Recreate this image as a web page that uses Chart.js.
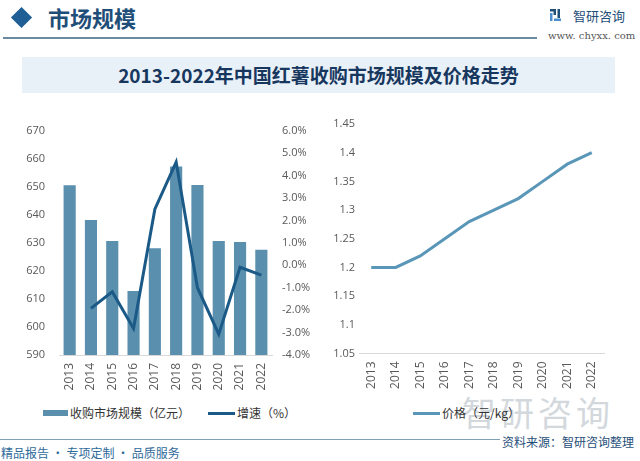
<!DOCTYPE html>
<html>
<head>
<meta charset="utf-8">
<script src="https://cdn.jsdelivr.net/npm/chart.js@4/dist/chart.umd.min.js"></script>
<style>
  html, body { margin: 0; padding: 0; background: #fff; }
  body { width: 640px; height: 461px; position: relative; overflow: hidden;
         font-family: "Noto Sans CJK SC", "Noto Sans", sans-serif; }
  .abs { position: absolute; white-space: nowrap; }
  #diamond { left: 14px; top: 10px; width: 15px; height: 15px; background: #1f5f95; transform: rotate(45deg); }
  #head { left: 48px; top: 3px; font-size: 22px; font-weight: 700; color: #1f4e79; line-height: 28px; }
  #headLine { left: 3px; top: 37px; width: 534px; height: 2px; background: #6d8ba0; }
  #logoIcon { left: 550px; top: 9px; width: 11px; height: 12px; }
  #logoText { left: 573px; top: 7px; font-size: 13px; color: #1f4e79; line-height: 18px; }
  #logoUrl { left: 548px; top: 30px; font-size: 10px; color: #555; font-family: "DejaVu Serif", serif; line-height: 12px; }
  #band { left: 22px; top: 57px; width: 593px; height: 36px; background: #e9f1f8; }
  #title { left: 22px; top: 57px; width: 593px; text-align: center; font-size: 19px; font-weight: 700;
           color: #17375e; line-height: 36px; }
  #leftBox { left: 0; top: 110px; width: 320px; height: 285px; }
  #rightBox { left: 310px; top: 110px; width: 330px; height: 285px; }
  .leg { font-size: 12px; color: #333; line-height: 16px; }
  .sw { position: absolute; }
  #wm { left: 462px; top: 392px; font-size: 34px; color: #d3d8dd; line-height: 40px; letter-spacing: 4px; }
  #footLine { left: 0; top: 439px; width: 500px; height: 1px; background: #7f9fb5; }
  #slogan { left: 1px; top: 445px; font-size: 12px; color: #2f6a9a; line-height: 16px; }
  #source { left: 502px; top: 434px; font-size: 12px; color: #1f4e79; line-height: 16px; }
</style>
</head>
<body>
<div class="abs" id="diamond"></div>
<div class="abs" id="head">市场规模</div>
<div class="abs" id="headLine"></div>
<svg class="abs" id="logoIcon" viewBox="0 0 11 12">
  <rect x="0" y="0" width="6" height="2.5" fill="#1f4e79"/>
  <rect x="3.5" y="0" width="2.5" height="6" fill="#1f4e79"/>
  <rect x="0" y="4" width="2.5" height="8" fill="#4a90d0"/>
  <rect x="7.5" y="0" width="2.5" height="9" fill="#1f4e79"/>
  <rect x="4" y="9.5" width="7" height="2.5" fill="#4a90d0"/>
</svg>
<div class="abs" id="logoText">智研咨询</div>
<div class="abs" id="logoUrl">www. chyxx. com</div>
<div class="abs" id="band"></div>
<div class="abs" id="title">2013-2022年中国红薯收购市场规模及价格走势</div>

<div class="abs" id="wm">智研咨询</div>

<div class="abs" id="leftBox"><canvas id="leftChart"></canvas></div>
<div class="abs" id="rightBox"><canvas id="rightChart"></canvas></div>

<div class="sw" style="left:43px;top:410px;width:25px;height:6px;background:#5a8fae;"></div>
<div class="abs leg" style="left:70px;top:405px;">收购市场规模（亿元）</div>
<div class="sw" style="left:208px;top:412px;width:27px;height:3px;background:#1b5a87;"></div>
<div class="abs leg" style="left:237px;top:405px;">增速（%）</div>
<div class="sw" style="left:413px;top:412px;width:27px;height:3px;background:#5a96b8;"></div>
<div class="abs leg" style="left:442px;top:405px;">价格（元/kg）</div>

<div class="abs" id="footLine"></div>
<div class="abs" id="slogan">精品报告 · 专项定制 · 品质服务</div>
<div class="abs" id="source">资料来源：智研咨询整理</div>

<script>
const years = ['2013', '2014', '2015', '2016', '2017', '2018', '2019', '2020', '2021', '2022'];
const marketSize = [650.5, 638.1, 630.6, 612.8, 628.1, 657.2, 650.6, 630.6, 630.3, 627.5];
const growthRate = [null, -1.92, -1.18, -2.82, 2.5, 4.6, -1.0, -3.07, -0.09, -0.44];
const price = [1.2, 1.2, 1.22, 1.25, 1.28, 1.30, 1.32, 1.35, 1.38, 1.40];

const tickFont = { family: 'Open Sans', size: 11 };
const xTickFont = { family: 'Open Sans', size: 12 };
const tickColor = '#595959';

new Chart(document.getElementById('leftChart'), {
    type: 'bar',
    data: {
        labels: years,
        datasets: [{
            type: 'line',
            label: '增速（%）',
            data: growthRate,
            yAxisID: 'y2',
            borderColor: '#1b5a87',
            borderWidth: 3,
            pointRadius: 0,
            tension: 0,
            order: 0
        }, {
            type: 'bar',
            label: '收购市场规模（亿元）',
            data: marketSize,
            yAxisID: 'y',
            backgroundColor: '#5a8fae',
            barPercentage: 0.57,
            categoryPercentage: 1,
            order: 1
        }]
    },
    options: {
        responsive: true,
        maintainAspectRatio: false,
        animation: false,
        layout: { padding: { top: 15, left: 0, right: 0, bottom: 0 } },
        plugins: { legend: { display: false }, tooltip: { enabled: false } },
        scales: {
            x: {
                grid: { display: false, drawTicks: false },
                border: { display: true, color: '#d9d9d9', width: 1 },
                ticks: { font: xTickFont, color: tickColor, maxRotation: 90, minRotation: 90, padding: 8 },
                afterFit: s => { s.height = 40; }
            },
            y: {
                position: 'left',
                min: 590, max: 670,
                grid: { display: false, drawTicks: false },
                border: { display: false },
                ticks: { stepSize: 10, font: tickFont, color: tickColor, padding: 14 },
                afterFit: s => { s.width = 59; }
            },
            y2: {
                position: 'right',
                min: -4, max: 6,
                grid: { display: false, drawTicks: false },
                border: { display: false },
                ticks: { stepSize: 1, font: tickFont, color: tickColor, padding: 10,
                         callback: v => v.toFixed(1) + '%' },
                afterFit: s => { s.width = 48; }
            }
        }
    }
});

new Chart(document.getElementById('rightChart'), {
    type: 'line',
    data: {
        labels: years,
        datasets: [{
            label: '价格（元/kg）',
            data: price,
            borderColor: '#5a96b8',
            borderWidth: 3,
            pointRadius: 0,
            tension: 0
        }]
    },
    options: {
        responsive: true,
        maintainAspectRatio: false,
        animation: false,
        layout: { padding: { top: 14, left: 0, right: 36, bottom: 0 } },
        plugins: { legend: { display: false }, tooltip: { enabled: false } },
        scales: {
            x: {
                offset: true,
                grid: { display: false, drawTicks: false },
                border: { display: true, color: '#d9d9d9', width: 1 },
                ticks: { font: xTickFont, color: tickColor, maxRotation: 90, minRotation: 90, padding: 8 },
                afterFit: s => { s.height = 41.5; }
            },
            y: {
                min: 1.05, max: 1.45,
                grid: { display: false, drawTicks: false },
                border: { display: false },
                ticks: { stepSize: 0.05, font: tickFont, color: tickColor, padding: 4,
                         callback: v => String(+v.toFixed(2)) },
                afterFit: s => { s.width = 49; }
            }
        }
    }
});
</script>
</body>
</html>
